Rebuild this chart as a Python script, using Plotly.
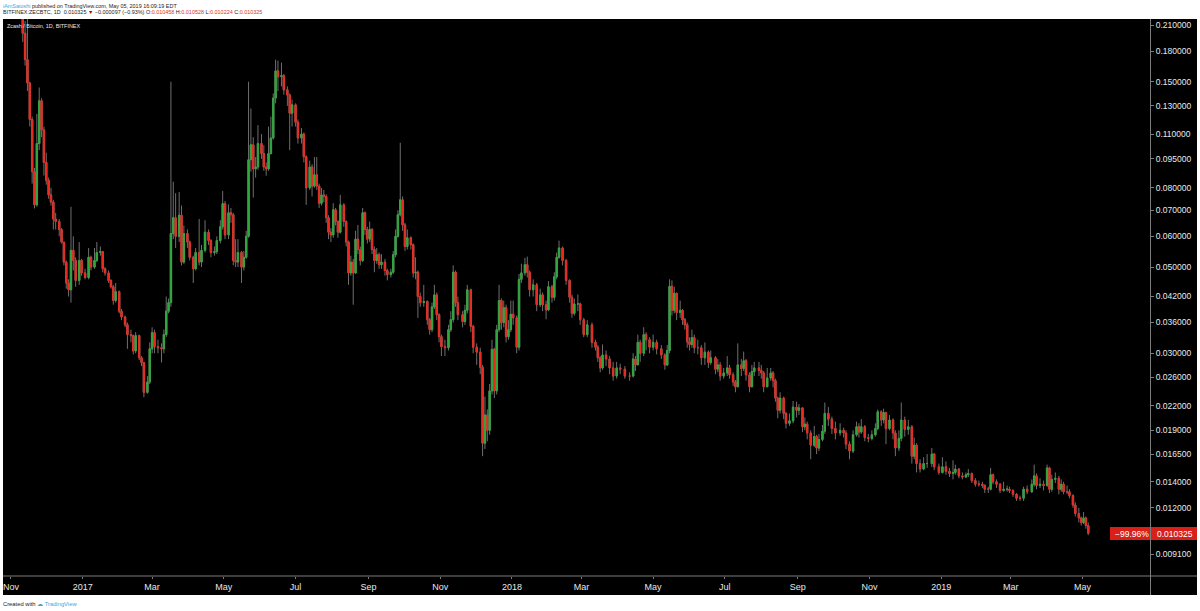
import pandas as pd
import plotly.graph_objects as go

# Days since 2016-11-01 of each sampled candle
days = [10,12,14,16,18,20,22,24,26,28,
30,32,34,36,38,41,43,45,47,49,
51,53,55,58,60,63,66,68,71,73,
76,78,80,83,85,87,89,92,94,97,
99,102,104,106,109,111,113,116,118,120,
122,125,128,130,132,134,136,138,140,143,
145,147,150,152,155,157,160,162,165,168,
170,173,175,178,180,182,185,187,189,191,
193,196,198,200,202,204,206,208,210,213,
215,217,219,221,223,225,227,230,232,235,
237,239,242,244,247,249,251,254,256,258,
260,262,264,266,268,270,272,274,276,278,
280,283,285,287,289,291,293,295,297,299,
301,303,305,307,309,311,313,315,318,320,
323,325,327,329,331,333,335,337,340,342,
344,346,348,351,354,356,358,360,362,364,
366,369,372,374,376,378,380,384,386,388,
391,393,396,399,401,403,405,407,409,411,
413,415,417,419,421,423,425,427,430,432,
434,437,439,441,444,447,450,452,455,457,
460,462,464,466,469,472,475,477,479,482,
484,487,490,494,497,499,501,503,506,509,
512,515,518,522,526,529,531,533,535,538,
540,543,546,549,553,556,558,560,562,564,
566,569,571,573,575,577,579,581,584,587,
590,593,595,599,601,603,606,609,611,614,
616,618,621,623,625,628,630,632,636,638,
640,643,646,648,650,652,654,657,659,662,
665,668,670,673,675,677,680,683,685,687,
690,692,695,698,701,705,708,710,713,716,
719,721,723,726,729,732,735,737,740,742,
744,747,750,752,755,757,760,763,766,768,
770,773,776,779,783,785,789,792,795,798,
801,803,806,809,812,814,817,820,823,826,
828,831,833,835,838,841,844,847,849,852,
855,858,861,864,868,870,872,875,878,881,
883,885,888,891,893,895,898,900,903,905,
908,910,912,914,916]

closes = [.200,.171,.149,.120,.088,.0723,.104,.134,.1128,.093,
.0836,.0767,.0735,.0665,.0655,.0625,.0580,.0515,.0455,.0437,
.0552,.0520,.0462,.0520,.0483,.0470,.0530,.0500,.0520,.0545,
.0548,.0495,.0483,.0462,.0445,.0410,.0432,.0385,.0372,.0355,
.0335,.0333,.0304,.0333,.0292,.0284,.0238,.0253,.0308,.0339,
.0312,.0310,.0308,.0335,.0385,.0405,.0610,.0670,.0600,.0680,
.0515,.0610,.0580,.0530,.0495,.0545,.0515,.0552,.0615,.0585,
.0545,.0548,.0585,.0635,.0728,.0605,.0690,.0682,.0520,.0515,
.0545,.0500,.0530,.0600,.0945,.1032,.0895,.0905,.1040,.0980,
.0905,.0895,.0980,.1075,.1362,.160,.1545,.1555,.143,.1387,
.1245,.1308,.118,.1075,.110,.0962,.0800,.0905,.0808,.0864,
.0808,.0730,.0767,.0760,.0670,.0615,.0605,.0702,.0655,.0615,
.0723,.0655,.0580,.0483,.0515,.0483,.0590,.0555,.0520,.0690,
.0625,.0590,.0625,.0555,.0520,.0538,.0507,.0515,.0490,.0478,
.0485,.0538,.0600,.0682,.0745,.0642,.0565,.0595,.0571,.0483,
.0485,.0420,.0405,.0408,.0366,.0345,.0395,.0424,.0377,.0331,
.0312,.0310,.0345,.0366,.0485,.0405,.0377,.0362,.0387,.0437,
.0352,.0311,.0302,.0276,.0176,.0208,.0190,.0240,.0307,.0240,
.0345,.0410,.0360,.0393,.0331,.0345,.0378,.0370,.0311,.0465,
.0483,.0507,.0485,.0437,.0450,.0400,.0424,.0400,.0388,.0445,
.0418,.0472,.0530,.0560,.0520,.0462,.0418,.0380,.0402,.0402,
.0366,.0335,.0355,.0320,.0311,.0292,.0275,.0297,.0290,.0275,
.0262,.0275,.0273,.0262,.0262,.0290,.0280,.0320,.0300,.0335,
.0325,.0311,.0320,.0308,.0297,.0280,.0305,.0446,.0387,.0428,
.0382,.0387,.0366,.0355,.0321,.0316,.0329,.0310,.0310,.0292,
.0302,.0284,.0292,.0273,.0280,.0262,.0267,.0275,.0264,.0253,
.0246,.0280,.0274,.0287,.0264,.0246,.0269,.0275,.0271,.0267,
.0246,.0259,.0267,.0255,.0230,.0214,.0230,.0210,.0198,.0201,
.0218,.0214,.0217,.0194,.0197,.0187,.0174,.0183,.0171,.0180,
.0189,.0210,.0203,.0192,.0187,.0190,.0187,.0175,.0168,.0185,
.0194,.0188,.0194,.0182,.0181,.0185,.0192,.0212,.0202,.0211,
.0192,.0202,.0187,.0171,.0181,.0202,.0191,.0194,.0163,.0174,
.0156,.0151,.0156,.0156,.0165,.0153,.0148,.0153,.0149,.0147,
.0148,.0151,.0145,.0144,.0146,.0147,.0141,.0138,.0138,.0137,
.0134,.0134,.0146,.0140,.0138,.0133,.0134,.0134,.0133,.0130,
.0127,.0127,.0134,.0132,.0138,.0145,.0137,.0138,.0137,.0152,
.0134,.0142,.0143,.0134,.0138,.0132,.0132,.0129,.0122,.0116,
.0113,.0110,.0113,.0108,.010325]

highs = [.26,.215,.22,.150,.122,.090,.124,.145,.136,.115,
.0985,.085,.080,.0745,.069,.0665,.063,.058,.052,.0465,
.0715,.0600,.0530,.0580,.0525,.0495,.0560,.0535,.0560,.0580,
.0565,.0550,.0500,.0490,.0465,.0450,.0455,.0435,.0390,.0375,
.0360,.0345,.0335,.0340,.0335,.0295,.0285,.0262,.0320,.0350,
.0345,.0325,.0318,.0345,.0420,.0415,.150,.083,.0775,.0780,
.0720,.0640,.0625,.0585,.0535,.0560,.0665,.0570,.0660,.0625,
.0590,.0565,.0600,.0660,.0785,.0740,.0725,.0710,.0690,.0590,
.0590,.0550,.0550,.0620,.150,.128,.108,.0960,.116,.110,
.103,.0930,.115,.122,.140,.171,.170,.168,.157,.146,
.140,.135,.132,.120,.114,.111,.0970,.0940,.0920,.0960,
.0960,.0820,.0800,.0790,.0770,.0680,.0630,.0730,.0710,.0660,
.0767,.0730,.0660,.0585,.0535,.0525,.0620,.0642,.0565,.0710,
.0695,.0635,.0655,.0630,.0565,.0560,.0545,.0540,.0525,.0495,
.0495,.0550,.0625,.0700,.1045,.0760,.0650,.0625,.0600,.0575,
.0530,.0490,.0430,.0450,.0410,.0370,.0405,.0450,.0430,.0380,
.0335,.0325,.0355,.0385,.0505,.0490,.0420,.0385,.0400,.0450,
.0440,.0355,.0318,.0310,.0280,.0232,.0215,.0250,.0325,.0310,
.0355,.0450,.0415,.0410,.0400,.0365,.0410,.0410,.0375,.0480,
.0510,.0528,.0532,.0490,.0465,.0455,.0440,.0430,.0410,.0460,
.0450,.0485,.0545,.0585,.0565,.0525,.0465,.0425,.0415,.0425,
.0405,.0370,.0365,.0360,.0325,.0315,.0295,.0316,.0305,.0295,
.0285,.0285,.0282,.0278,.0268,.0300,.0295,.0335,.0325,.0350,
.0340,.0330,.0335,.0325,.0315,.0300,.0315,.0465,.0462,.0445,
.0430,.0410,.0390,.0370,.0360,.0330,.0345,.0335,.0325,.0315,
.0320,.0305,.0305,.0295,.0290,.0285,.0275,.0295,.0280,.0268,
.0256,.0318,.0290,.0303,.0290,.0268,.0280,.0285,.0285,.0280,
.0270,.0275,.0275,.0270,.0258,.0232,.0238,.0232,.0212,.0210,
.0226,.0225,.0222,.0218,.0205,.0200,.0190,.0195,.0185,.0186,
.0196,.0224,.0218,.0206,.0200,.0198,.0193,.0190,.0178,.0190,
.0200,.0198,.0203,.0196,.0186,.0190,.0198,.0215,.0214,.0216,
.0212,.0208,.0204,.0190,.0190,.0224,.0206,.0202,.0196,.0182,
.0176,.0160,.0162,.0165,.0171,.0166,.0156,.0162,.0158,.0152,
.0159,.0155,.0152,.0148,.0148,.0151,.0148,.0143,.0141,.0140,
.0138,.0136,.0152,.0147,.0142,.0139,.0140,.0137,.0136,.0134,
.0131,.0129,.0136,.0137,.0142,.0155,.0147,.0143,.0141,.0155,
.0153,.0146,.0148,.0145,.0142,.0140,.0137,.0134,.0130,.0124,
.0120,.0114,.0117,.0114,.0110]

lows = [.19,.165,.142,.115,.082,.0708,.0715,.100,.108,.086,
.0815,.075,.072,.0625,.0625,.060,.0575,.0505,.044,.0420,
.0405,.0490,.0445,.0450,.0475,.0465,.0465,.0490,.0495,.0515,
.0535,.0485,.0475,.0455,.0440,.0400,.0405,.0380,.0365,.0350,
.0308,.0320,.0298,.0300,.0288,.0278,.0231,.0236,.0250,.0300,
.0300,.0300,.0284,.0300,.0330,.0380,.0395,.0590,.0560,.0580,
.0505,.0510,.0560,.0520,.0455,.0490,.0505,.0500,.0545,.0570,
.0530,.0535,.0540,.0575,.0625,.0590,.0590,.0650,.0505,.0500,
.0500,.0455,.0490,.0525,.0595,.0880,.0755,.0850,.0890,.0950,
.0885,.0860,.0885,.0975,.1065,.132,.142,.146,.139,.130,
.100,.115,.115,.104,.104,.0930,.0723,.0790,.0760,.0800,
.0790,.0710,.0720,.0735,.0650,.0590,.0580,.0595,.0640,.0595,
.0610,.0635,.0565,.0450,.0475,.0400,.0480,.0540,.0505,.0515,
.0605,.0575,.0580,.0540,.0485,.0510,.0495,.0495,.0475,.0462,
.0470,.0480,.0530,.0595,.0675,.0620,.0550,.0555,.0555,.0470,
.0465,.0370,.0395,.0395,.0355,.0335,.0340,.0390,.0365,.0320,
.0295,.0295,.0305,.0340,.0360,.0395,.0365,.0350,.0355,.0380,
.0340,.0300,.0280,.0265,.0163,.0170,.0178,.0185,.0235,.0230,
.0235,.0340,.0345,.0350,.0320,.0325,.0340,.0355,.0300,.0305,
.0455,.0475,.0470,.0420,.0420,.0385,.0395,.0385,.0367,.0385,
.0405,.0410,.0465,.0525,.0505,.0450,.0405,.0370,.0375,.0385,
.0355,.0330,.0330,.0310,.0305,.0285,.0268,.0272,.0278,.0265,
.0255,.0258,.0265,.0258,.0255,.0260,.0270,.0280,.0285,.0295,
.0305,.0300,.0305,.0298,.0290,.0272,.0278,.0300,.0375,.0380,
.0365,.0370,.0355,.0345,.0310,.0305,.0310,.0300,.0298,.0280,
.0280,.0275,.0280,.0265,.0268,.0255,.0258,.0262,.0258,.0247,
.0238,.0245,.0262,.0270,.0255,.0238,.0245,.0262,.0262,.0258,
.0238,.0245,.0255,.0245,.0225,.0204,.0210,.0203,.0192,.0195,
.0198,.0205,.0208,.0188,.0190,.0180,.0160,.0172,.0165,.0168,
.0178,.0186,.0195,.0186,.0180,.0184,.0182,.0170,.0160,.0166,
.0183,.0182,.0186,.0178,.0177,.0179,.0183,.0190,.0195,.0198,
.0175,.0190,.0180,.0163,.0168,.0178,.0183,.0185,.0156,.0160,
.0148,.0148,.0150,.0152,.0153,.0150,.0146,.0147,.0146,.0144,
.0142,.0146,.0143,.0142,.0143,.0144,.0139,.0136,.0136,.0135,
.0131,.0131,.0133,.0138,.0135,.0131,.0132,.0132,.0131,.0128,
.0125,.0125,.0125,.0130,.0131,.0136,.0134,.0135,.0133,.0136,
.0131,.0132,.0139,.0130,.0132,.0130,.0130,.0127,.0120,.0114,
.0110,.0108,.0109,.0106,.0102]

first_open = 0.24
y_tick_vals = [.21,.18,.15,.13,.11,.095,.08,.07,.06,.05,.042,.036,.03,.026,.022,.019,.0165,.014,.012,.0091]
x_tick_dates = ["2016-11-01","2017-01-01","2017-03-01","2017-05-01","2017-07-01","2017-09-01","2017-11-01",
                "2018-01-01","2018-03-01","2018-05-01","2018-07-01","2018-09-01","2018-11-01","2019-01-01",
                "2019-03-01","2019-05-01"]
x_tick_text = ["Nov","2017","Mar","May","Jul","Sep","Nov","2018","Mar","May","Jul","Sep","Nov","2019","Mar","May"]

assert len(days) == len(closes) == len(highs) == len(lows), (len(days), len(closes), len(highs), len(lows))

base = pd.Timestamp("2016-11-01")
dates = [base + pd.Timedelta(days=d) for d in days]
opens = [first_open] + closes[:-1]
H = [max(h, o, c) for h, o, c in zip(highs, opens, closes)]
L = [min(l, o, c) for l, o, c in zip(lows, opens, closes)]
body_hi = [max(o, c) for o, c in zip(opens, closes)]
body_lo = [min(o, c) for o, c in zip(opens, closes)]

UP, DOWN, WICK = "#2fa83c", "#ee2a1e", "#6f6f6f"
W, HH = 1200, 611
ML, MR, MT, MB = 3, 50, 19, 35
PW, PH = W - ML - MR, HH - MT - MB
px = lambda v: (v - ML) / PW
py = lambda v: (HH - MB - v) / PH

fig = go.Figure()
fig.add_trace(go.Candlestick(
    x=dates, open=opens, high=H, low=L, close=closes, name="wicks",
    increasing=dict(line=dict(color=WICK, width=1), fillcolor=WICK),
    decreasing=dict(line=dict(color=WICK, width=1), fillcolor=WICK),
    whiskerwidth=0, hoverinfo="skip", showlegend=False))
fig.add_trace(go.Candlestick(
    x=dates, open=opens, high=body_hi, low=body_lo, close=closes, name="ZECBTC",
    increasing=dict(line=dict(color=UP, width=0.8), fillcolor=UP),
    decreasing=dict(line=dict(color=DOWN, width=0.8), fillcolor=DOWN),
    whiskerwidth=0, showlegend=False))

GREY = "#7d7d7d"
shapes = [
    dict(type="rect", xref="paper", yref="paper", x0=px(3), x1=px(1197), y0=py(595), y1=py(19),
         fillcolor="black", line_width=0, layer="below"),
    dict(type="line", xref="paper", yref="paper", x0=px(3), x1=px(1197), y0=py(576), y1=py(576),
         line=dict(color=GREY, width=1)),
    dict(type="rect", xref="paper", yref="paper", x0=px(1110), x1=px(1197), y0=py(540), y1=py(527),
         fillcolor="#d7201a", line_width=0, layer="above"),
    dict(type="line", xref="paper", yref="paper", x0=px(1150.5), x1=px(1150.5), y0=py(595), y1=py(19),
         line=dict(color=GREY, width=1), layer="above"),
]

FONT = "Liberation Sans"
def note(x, y, text, size=5.45, color="#222222", anchor="left"):
    return dict(xref="paper", yref="paper", x=px(x), y=py(y), text=text, showarrow=False, xanchor=anchor,
                yanchor="middle", xshift=0, font=dict(family=FONT, size=size, color=color), align="left",
                borderpad=0, borderwidth=0)

RED = "#d8322a"
annotations = [
    note(3, 5.5, '<span style="color:#3aa7e0">iAmSatoshi</span> published on TradingView.com, May 05, 2019 16:09:19 EDT'),
    note(3, 12.5, 'BITFINEX:ZECBTC, 1D  0.010325 <span style="color:#b00000">▼</span> −0.000097 (−0.93%) '
                  f'O:<span style="color:{RED}">0.010458</span> H:<span style="color:{RED}">0.010528</span> '
                  f'L:<span style="color:{RED}">0.010224</span> C:<span style="color:{RED}">0.010325</span>'),
    note(7, 26, "Zcash / Bitcoin, 1D, BITFINEX", color="#e8e8e8"),
    note(3, 603.5, 'Created with <span style="color:#3aa7e0">☁ TradingView</span>', size=5.8),
    note(1115, 533.5, "−99.96%", size=8.5, color="white"),
    note(1156.5, 533.5, "0.010325", size=8.5, color="white"),
]

fig.update_layout(
    width=W, height=HH, autosize=False, margin=dict(l=ML, r=MR, t=MT, b=MB),
    paper_bgcolor="white", plot_bgcolor="black", showlegend=False, boxmode="overlay", boxgap=0.15,
    font=dict(family=FONT, color="#e8e8e8"), shapes=shapes, annotations=annotations,
    xaxis=dict(type="date", range=["2016-10-25 05:00", "2019-06-27 12:00"], rangeslider=dict(visible=False),
               showgrid=False, zeroline=False, showline=False, tickmode="array", tickvals=x_tick_dates,
               ticktext=x_tick_text, ticks="outside", ticklen=2, tickcolor=GREY,
               tickfont=dict(size=9, family=FONT, color="#e8e8e8")),
    yaxis=dict(type="log", side="right", range=[-2.0964, -0.6623], showgrid=False, zeroline=False, showline=False,
               tickmode="array", tickvals=y_tick_vals, ticktext=[f"{v:.6f}" for v in y_tick_vals],
               ticks="outside", ticklen=3, tickcolor=GREY, tickfont=dict(size=8.5, family=FONT, color="#e8e8e8")),
)
fig.write_html("out.html", config=dict(displayModeBar=False), post_script="document.body.style.margin='0';")
